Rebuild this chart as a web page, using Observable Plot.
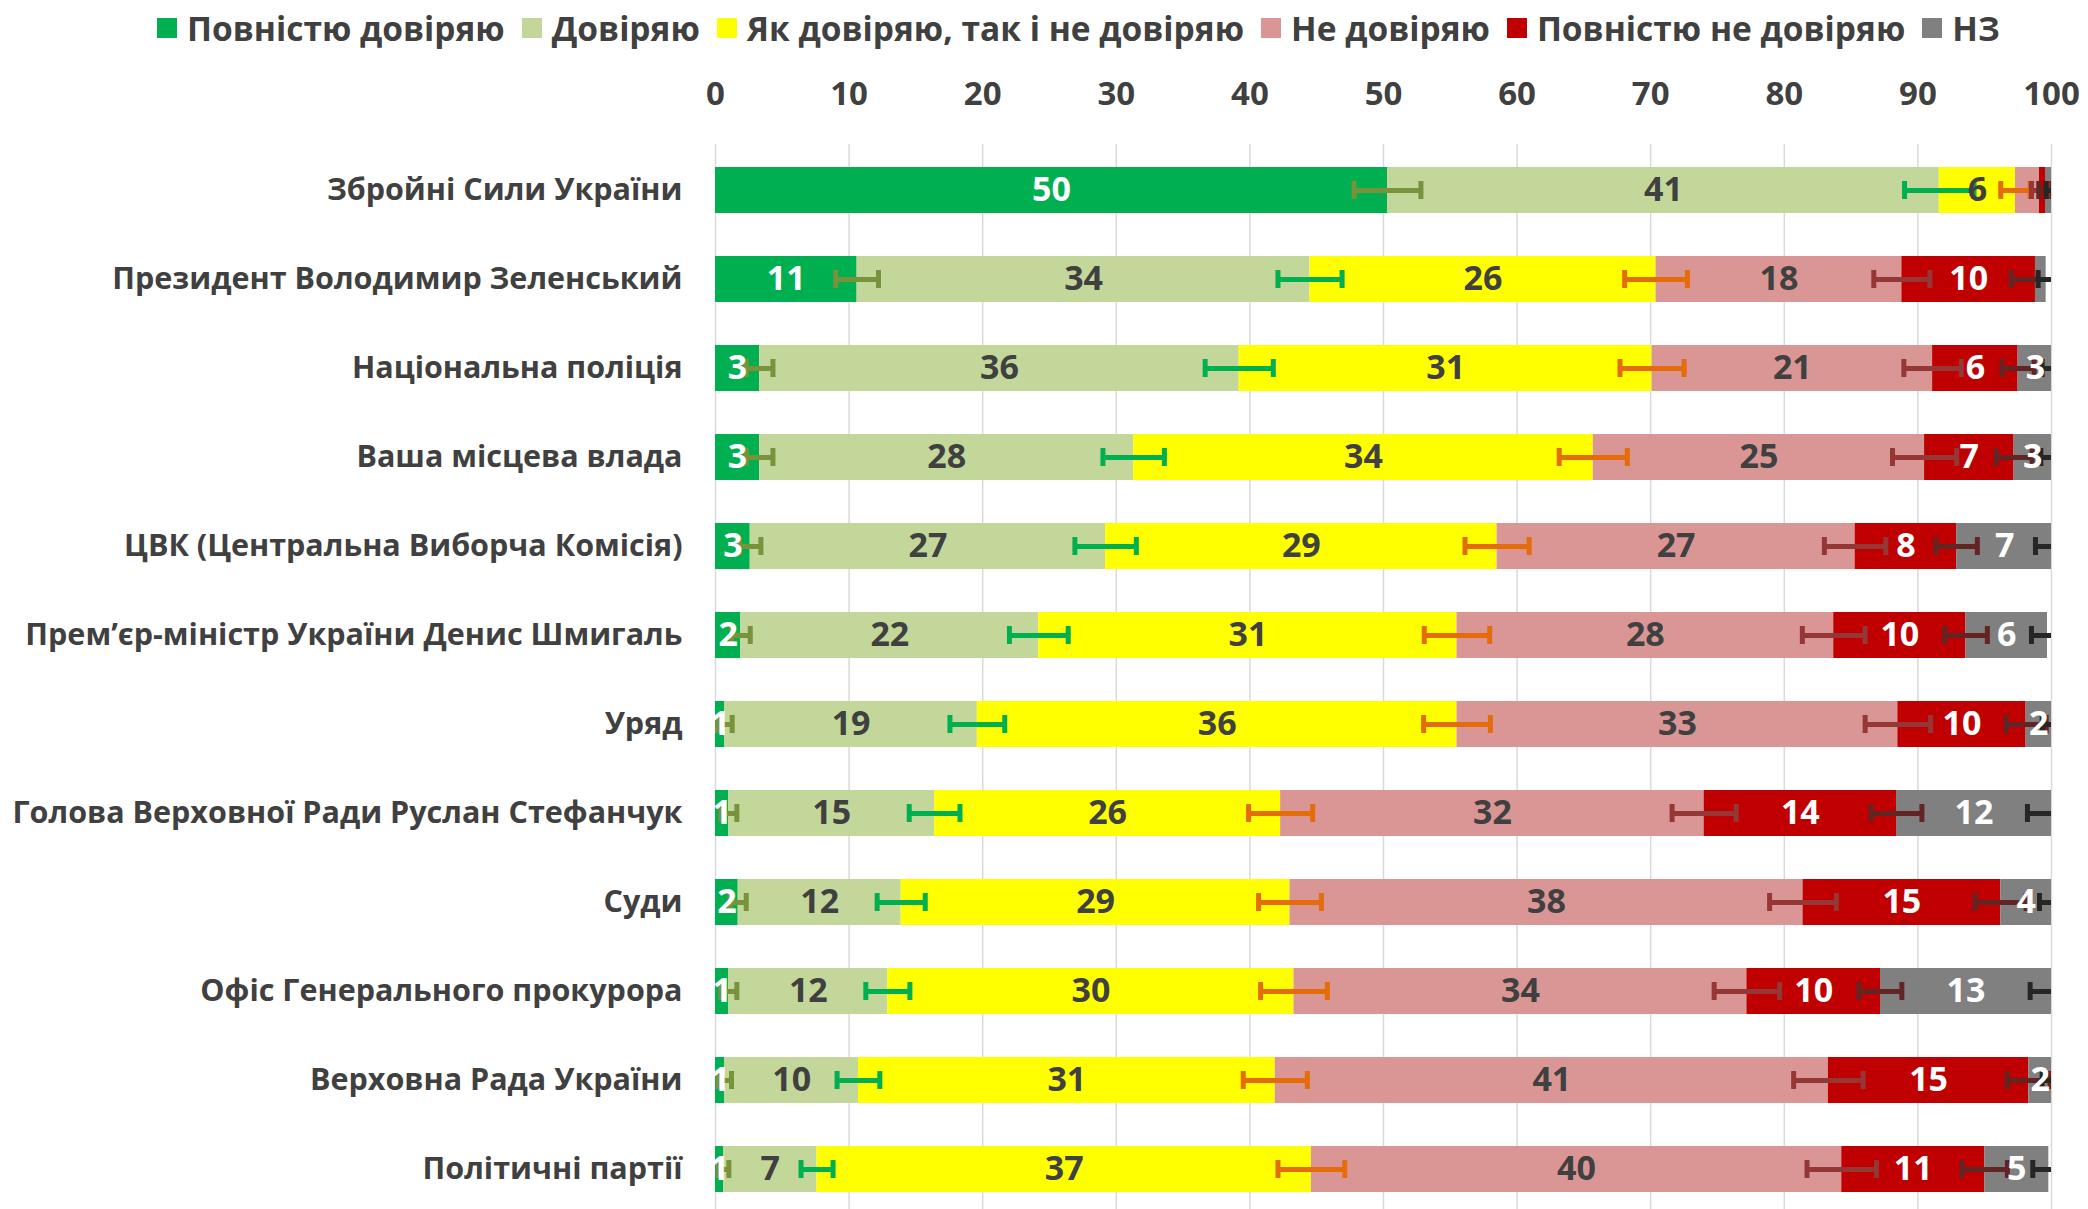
<!DOCTYPE html>
<html>
<head>
<meta charset="utf-8">
<script src="https://cdn.jsdelivr.net/npm/d3@7"></script>
<script src="https://cdn.jsdelivr.net/npm/@observablehq/plot@0.6"></script>
<style>
  html, body { margin: 0; padding: 0; background: #ffffff; }
  #wrap { width: 2088px; height: 1209px; overflow: hidden; position: relative; }
  #legend { height: 56px; display: flex; align-items: center; padding-left: 157px; box-sizing: border-box;
            font-family: 'Open Sans', sans-serif; font-weight: bold; font-size: 33.5px; color: #404040; white-space: nowrap; }
  #legend .item { display: flex; align-items: center; margin-right: 17px; }
  #legend .sw { width: 20px; height: 20px; margin-right: 10px; flex: none; }
  #chart svg g[aria-label^="y-axis"] text { font-size: 30.5px; }
</style>
</head>
<body>
<div id="wrap">
  <div id="legend"></div>
  <div id="chart"></div>
</div>
<script>
// ---- data ----
const categories = [
  "Збройні Сили України",
  "Президент Володимир Зеленський",
  "Національна поліція",
  "Ваша місцева влада",
  "ЦВК (Центральна Виборча Комісія)",
  "Прем’єр-міністр України Денис Шмигаль",
  "Уряд",
  "Голова Верховної Ради Руслан Стефанчук",
  "Суди",
  "Офіс Генерального прокурора",
  "Верховна Рада України",
  "Політичні партії"
];
const seriesNames = ["Повністю довіряю", "Довіряю", "Як довіряю, так і не довіряю", "Не довіряю", "Повністю не довіряю", "НЗ"];

const fullTrust    = [50.3, 10.6, 3.3, 3.3, 2.6, 1.9, 0.7, 1.0, 1.7, 1.0, 0.7, 0.6];
const trust        = [41.3, 33.9, 35.9, 28.0, 26.6, 22.3, 18.9, 15.4, 12.2, 11.9, 10.0, 7.0];
const neutral      = [5.7, 25.9, 30.9, 34.4, 29.3, 31.3, 35.9, 25.9, 29.1, 30.4, 31.2, 37.0];
const distrust     = [1.8, 18.4, 21.0, 24.8, 26.8, 28.2, 33.0, 31.7, 38.4, 33.9, 41.4, 39.7];
const fullDistrust = [0.45, 10.0, 6.4, 6.7, 7.6, 9.9, 9.6, 14.4, 14.8, 10.0, 15.0, 10.7];
const noAnswer     = [0.45, 0.8, 2.6, 2.8, 7.2, 6.1, 1.9, 11.6, 3.8, 12.8, 1.7, 4.8];

// error half-widths (percentage points) at the end of each segment
const errFullTrust    = [2.5, 1.6, 1.0, 1.0, 0.8, 0.7, 0.55, 0.6, 0.6, 0.6, 0.5, 0.4];
const errTrust        = [2.6, 2.4, 2.55, 2.3, 2.3, 2.2, 2.05, 1.9, 1.8, 1.65, 1.6, 1.2];
const errNeutral      = [1.1, 2.35, 2.4, 2.55, 2.4, 2.45, 2.5, 2.4, 2.35, 2.5, 2.4, 2.5];
const errDistrust     = [0.6, 2.1, 2.15, 2.4, 2.3, 2.35, 2.45, 2.4, 2.5, 2.45, 2.6, 2.6];
const errFullDistrust = [0.5, 1.8, 1.2, 1.35, 1.55, 1.6, 1.5, 1.9, 1.9, 1.6, 1.6, 1.7];
const errNoAnswer     = [0.4, 0.6, 0.8, 0.8, 1.3, 1.2, 0.7, 1.8, 0.9, 1.6, 0.7, 1.2];

// value labels that are not shown in the original: [category index, series index]
const hiddenLabels = [[0, 3], [0, 4], [0, 5], [1, 5]];

const xTicks = [0, 10, 20, 30, 40, 50, 60, 70, 80, 90, 100];

// ---- styles ----
const barColors   = ["#00B050", "#C4D79B", "#FFFF00", "#DA9694", "#C00000", "#808080"];
const labelColors = ["#FFFFFF", "#404040", "#404040", "#404040", "#FFFFFF", "#FFFFFF"];
const errColors   = ["#77933C", "#00B050", "#E46C0A", "#953735", "#632523", "#262626"];

// ---- build table ----
const seriesValues = [fullTrust, trust, neutral, distrust, fullDistrust, noAnswer];
const seriesErrors = [errFullTrust, errTrust, errNeutral, errDistrust, errFullDistrust, errNoAnswer];
const rows = [];
categories.forEach((cat, i) => {
  let cum = 0;
  seriesValues.forEach((vals, j) => {
    const v = vals[i];
    const hidden = hiddenLabels.some(([a, b]) => a === i && b === j);
    rows.push({cat, j, value: v, x1: cum, x2: cum + v, err: seriesErrors[j][i],
               label: hidden ? "" : String(Math.round(v))});
    cum += v;
  });
});

// ---- legend ----
const legend = document.getElementById("legend");
seriesNames.forEach((name, j) => {
  const item = document.createElement("div");
  item.className = "item";
  const sw = document.createElement("span");
  sw.className = "sw";
  sw.style.background = barColors[j];
  const t = document.createElement("span");
  t.textContent = name;
  item.appendChild(sw); item.appendChild(t);
  legend.appendChild(item);
});

// ---- marks ----
const marks = [
  Plot.ruleX(xTicks, {stroke: "#d9d9d9", strokeWidth: 1.5})
];
seriesNames.forEach((name, j) => {
  marks.push(Plot.barX(rows.filter(d => d.j === j), {x1: "x1", x2: "x2", y: "cat", fill: barColors[j], clip: true}));
});
seriesNames.forEach((name, j) => {
  const sub = rows.filter(d => d.j === j);
  marks.push(Plot.ruleY(sub, {y: "cat", x1: d => d.x2 - d.err, x2: d => d.x2 + d.err, stroke: errColors[j], strokeWidth: 5, clip: true}));
  marks.push(Plot.tickX(sub, {x: d => d.x2 - d.err, y: "cat", stroke: errColors[j], strokeWidth: 5, insetTop: 14, insetBottom: 14, clip: true}));
  marks.push(Plot.tickX(sub, {x: d => d.x2 + d.err, y: "cat", stroke: errColors[j], strokeWidth: 5, insetTop: 14, insetBottom: 14, clip: true}));
});
seriesNames.forEach((name, j) => {
  marks.push(Plot.text(rows.filter(d => d.j === j && d.label !== ""), {
    x: d => (d.x1 + d.x2) / 2, y: "cat", text: "label",
    fill: labelColors[j], fontSize: 34, fontWeight: "bold"
  }));
});

const chart = Plot.plot({
  width: 2088,
  height: 1160,
  marginTop: 88,
  marginBottom: 0,
  marginLeft: 715,
  marginRight: 37,
  style: {fontFamily: "'Open Sans', sans-serif", fontWeight: "bold", fontSize: "33px", color: "#404040", background: "#ffffff", overflow: "visible"},
  x: {domain: [0, 100], axis: "top", ticks: xTicks, tickSize: 0, tickPadding: 40, label: null},
  y: {domain: categories, paddingInner: 0.48, paddingOuter: 0.21, tickSize: 0, tickPadding: 33, label: null},
  marks
});
document.getElementById("chart").appendChild(chart);
</script>
</body>
</html>
